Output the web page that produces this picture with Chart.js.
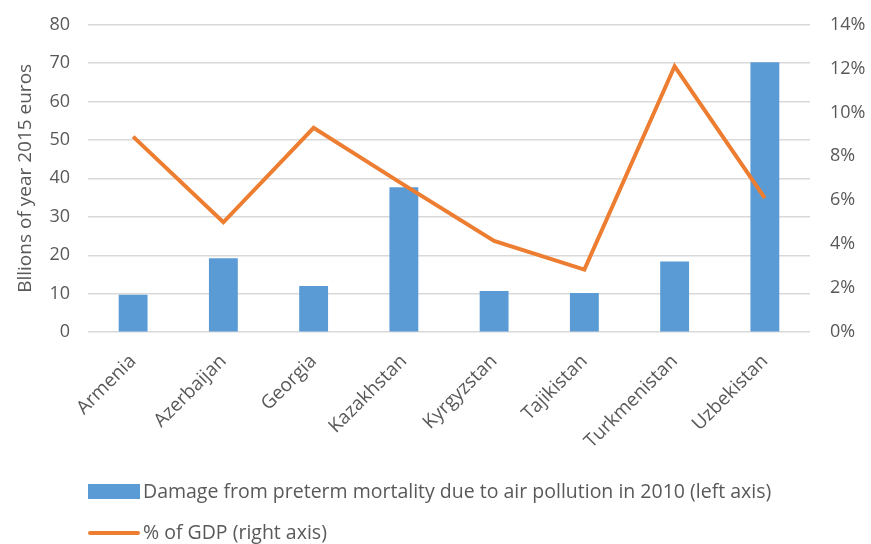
<!DOCTYPE html>
<html>
<head>
<meta charset="utf-8">
<script src="https://cdn.jsdelivr.net/npm/chart.js@4.4.1/dist/chart.umd.min.js"></script>
<style>
  html, body { margin: 0; padding: 0; background: #fff; }
  #wrap { width: 871px; height: 544px; }
</style>
</head>
<body>
<div id="wrap"><canvas id="myChart" width="871" height="544"></canvas></div>
<script>
const countries = ["Armenia", "Azerbaijan", "Georgia", "Kazakhstan", "Kyrgyzstan", "Tajikistan", "Turkmenistan", "Uzbekistan"];
const damageBillions = [9.7, 19.2, 12.0, 37.7, 10.7, 10.2, 18.4, 70.2];
const gdpShare = [8.9, 5.0, 9.3, 6.7, 4.15, 2.85, 12.1, 6.1];
const leftTicks = [0, 10, 20, 30, 40, 50, 60, 70, 80];
const rightTicks = [0, 2, 4, 6, 8, 10, 12, 14];

const barLabel = "Damage from preterm mortality due to air pollution in 2010 (left axis)";
const lineLabel = "% of GDP (right axis)";

const fontFamily = "'Open Sans', sans-serif";
const textColor = "#595959";

// legend drawn by hand so it can sit in two left-aligned rows under the plot
const bottomLegend = {
  id: "bottomLegend",
  afterDraw(chart) {
    const ctx = chart.ctx;
    const left = chart.chartArea.left;
    const bar = chart.data.datasets[0];
    const line = chart.data.datasets[1];
    ctx.save();
    ctx.font = "19.5px " + fontFamily;
    ctx.textBaseline = "middle";

    ctx.fillStyle = bar.backgroundColor;
    ctx.fillRect(left, 484, 52, 15);
    ctx.fillStyle = textColor;
    ctx.fillText(bar.label, left + 55, 492);

    ctx.strokeStyle = line.borderColor;
    ctx.lineWidth = 4;
    ctx.lineCap = "round";
    ctx.beginPath();
    ctx.moveTo(left + 2, 533);
    ctx.lineTo(left + 50, 533);
    ctx.stroke();
    ctx.fillText(line.label, left + 55, 533);
    ctx.restore();
  }
};

// fixed axis widths, and drop the extra top room chart.js adds for tick padding
const fitSide = (width) => (axis) => {
  axis.width = width;
  axis.paddingTop = 0;
};

const ctx = document.getElementById("myChart").getContext("2d");

new Chart(ctx, {
  type: "bar",
  data: {
    labels: countries,
    datasets: [
      {
        type: "bar",
        label: barLabel,
        data: damageBillions,
        yAxisID: "y",
        backgroundColor: "#5b9bd5",
        categoryPercentage: 1,
        barPercentage: 0.32,
        order: 1
      },
      {
        type: "line",
        label: lineLabel,
        data: gdpShare,
        yAxisID: "y1",
        borderColor: "#ed7d31",
        backgroundColor: "#ed7d31",
        borderWidth: 4,
        pointRadius: 0,
        tension: 0,
        order: 0
      }
    ]
  },
  options: {
    responsive: false,
    animation: false,
    layout: { padding: { top: 24.5, right: 0, bottom: 73, left: 0 } },
    plugins: {
      legend: { display: false },
      tooltip: { enabled: false }
    },
    scales: {
      x: {
        grid: { display: false, drawTicks: false },
        border: { display: false },
        ticks: {
          color: textColor,
          font: { family: fontFamily, size: 19 },
          maxRotation: 45,
          minRotation: 45,
          padding: 18
        }
      },
      y: {
        position: "left",
        min: 0,
        max: 80,
        afterBuildTicks: (axis) => { axis.ticks = leftTicks.map(v => ({ value: v })); },
        afterFit: fitSide(88),
        grid: { color: "#d9d9d9", lineWidth: 1.5, drawTicks: false },
        border: { display: false },
        ticks: {
          color: textColor,
          font: { family: fontFamily, size: 18 },
          padding: 18
        },
        title: {
          display: true,
          text: "Bllions of year 2015 euros",
          color: textColor,
          font: { family: fontFamily, size: 19 },
          padding: { top: 14, bottom: 0 }
        }
      },
      y1: {
        position: "right",
        min: 0,
        max: 14,
        afterBuildTicks: (axis) => { axis.ticks = rightTicks.map(v => ({ value: v })); },
        afterFit: fitSide(61),
        grid: { display: false, drawTicks: false },
        border: { display: false },
        ticks: {
          color: textColor,
          font: { family: fontFamily, size: 18 },
          padding: 20,
          callback: (v) => v + "%"
        }
      }
    }
  },
  plugins: [bottomLegend]
});
</script>
</body>
</html>
